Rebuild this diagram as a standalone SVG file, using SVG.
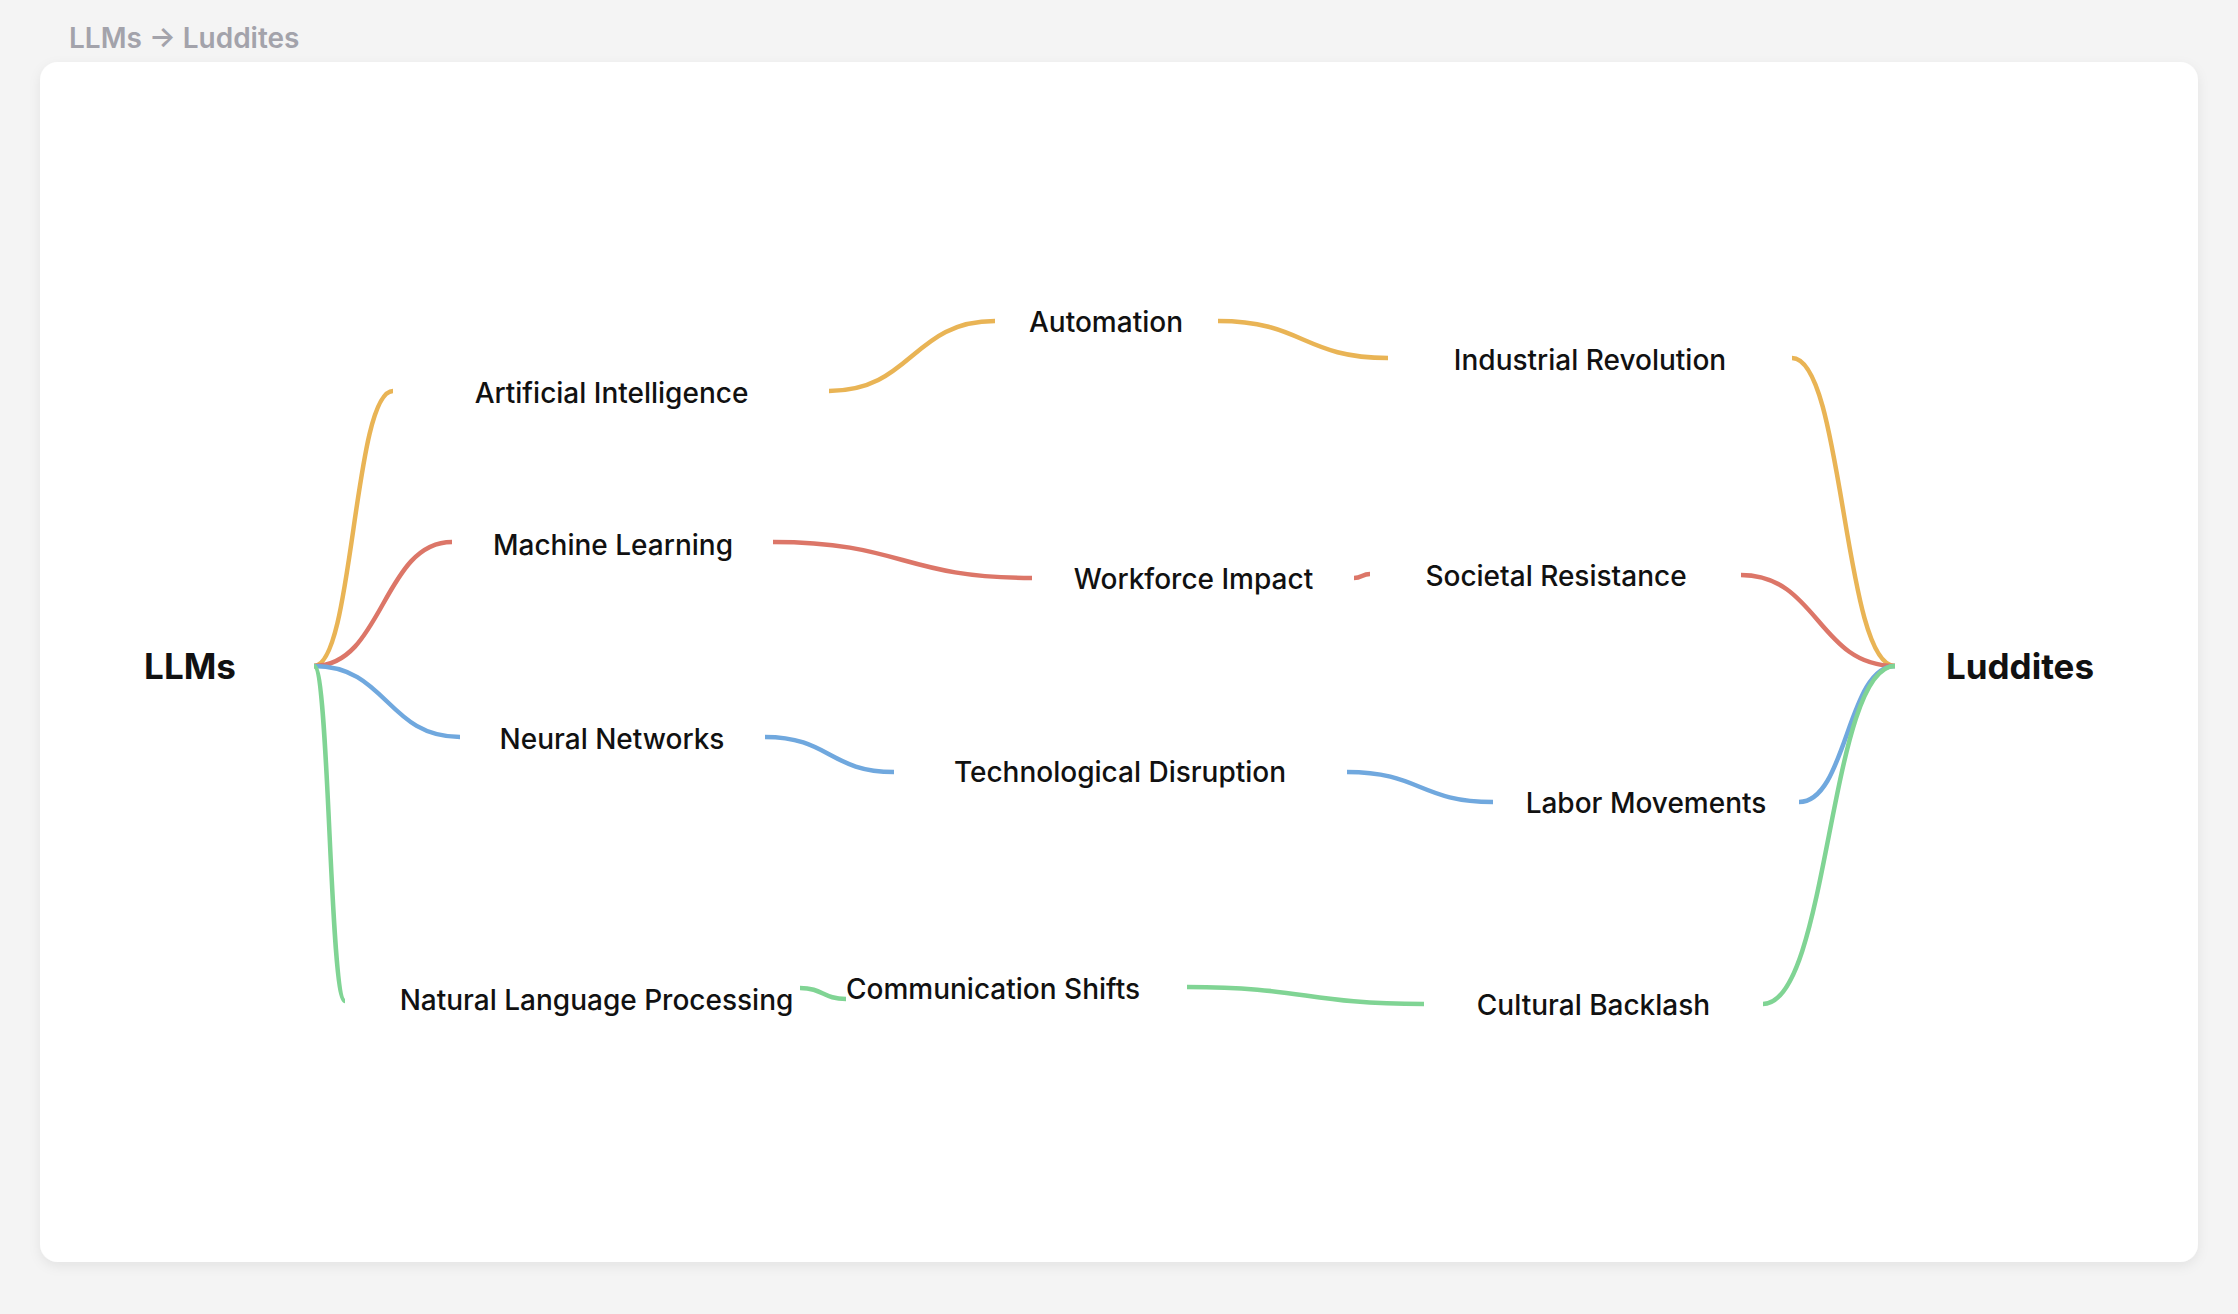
<svg xmlns="http://www.w3.org/2000/svg" width="2238" height="1314" viewBox="0 0 2238 1314">
<style>
.lbl{font-family:Inter,"Liberation Sans",sans-serif;font-size:28px;font-weight:500;fill:#111;text-anchor:middle}
.end{font-family:Inter,"Liberation Sans",sans-serif;font-size:35px;font-weight:700;fill:#111;text-anchor:middle}
.title{font-family:Inter,"Liberation Sans",sans-serif;font-size:28px;font-weight:600;fill:#a3a3ab}
.e{fill:none;stroke-width:4.5;stroke-linecap:butt}
.y{stroke:#e9b455}.r{stroke:#dc7668}.b{stroke:#70a8de}.g{stroke:#80d494}
</style>
<defs>
<filter id="sh" x="-5%" y="-5%" width="110%" height="115%">
<feDropShadow dx="0" dy="4" stdDeviation="6" flood-color="#000" flood-opacity="0.07"/>
</filter>
</defs>
<rect width="2238" height="1314" fill="#f4f4f4"/>
<text class="title" x="69" y="48">LLMs → Luddites</text>
<rect x="40" y="62" width="2158" height="1200" rx="18" fill="#fff" filter="url(#sh)"/>
<g id="connectors">
<path class="e y" d="M314,666 C353.5,666 353.5,391 393,391"/>
<path class="e y" d="M829,391 C912,391 912,321 995,321"/>
<path class="e y" d="M1218,321 C1303,321 1303,358 1388,358"/>
<path class="e y" d="M1792,358 C1843.5,358 1843.5,666 1895,666"/>
<path class="e r" d="M314,666 C383,666 383,542 452,542"/>
<path class="e r" d="M773,542 C902.5,542 902.5,578 1032,578"/>
<path class="e r" d="M1354,578 C1362,578 1362,574 1370,574"/>
<path class="e r" d="M1741,575 C1818,575 1818,666 1895,666"/>
<path class="e b" d="M314,666 C387,666 387,737 460,737"/>
<path class="e b" d="M765,737 C829.5,737 829.5,772 894,772"/>
<path class="e b" d="M1347,772 C1420,772 1420,802 1493,802"/>
<path class="e b" d="M1799,802 C1847,802 1847,666 1895,666"/>
<path class="e g" d="M314,666 C329.5,666 329.5,1001 345,1001"/>
<path class="e g" d="M800,988 C823,988 823,999 846,999"/>
<path class="e g" d="M1187,987 C1305.5,987 1305.5,1004 1424,1004"/>
<path class="e g" d="M1763,1004 C1829,1004 1829,666 1895,666"/>
</g>
<g id="n-llms"><text class="end" x="190" y="679">LLMs</text></g>
<g id="n-luddites"><text class="end" x="2020" y="679">Luddites</text></g>
<g id="n-ai"><text class="lbl" x="611.5" y="402.5">Artificial Intelligence</text></g>
<g id="n-ml"><text class="lbl" x="613" y="554.5">Machine Learning</text></g>
<g id="n-nn"><text class="lbl" x="612" y="748.5">Neural Networks</text></g>
<g id="n-nlp"><text class="lbl" x="596.5" y="1009.5">Natural Language Processing</text></g>
<g id="n-auto"><text class="lbl" x="1106" y="331.5">Automation</text></g>
<g id="n-wi"><text class="lbl" x="1193.5" y="588.5">Workforce Impact</text></g>
<g id="n-td"><text class="lbl" x="1120" y="781.5">Technological Disruption</text></g>
<g id="n-cs"><text class="lbl" x="993" y="998.5">Communication Shifts</text></g>
<g id="n-ir"><text class="lbl" x="1590" y="369.5">Industrial Revolution</text></g>
<g id="n-sr"><text class="lbl" x="1556" y="585.5">Societal Resistance</text></g>
<g id="n-lm"><text class="lbl" x="1646" y="812.5">Labor Movements</text></g>
<g id="n-cb"><text class="lbl" x="1593.5" y="1014.5">Cultural Backlash</text></g>
</svg>
